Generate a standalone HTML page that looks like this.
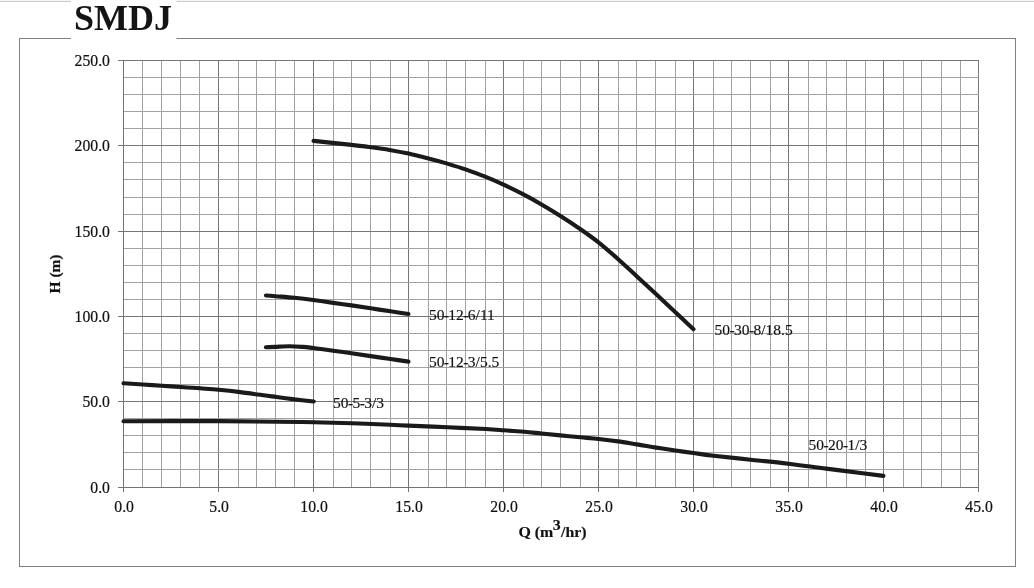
<!DOCTYPE html>
<html lang="en">
<head>
<meta charset="utf-8">
<title>SMDJ</title>
<style>
html,body{margin:0;padding:0;background:#fff;}
body{width:1034px;height:588px;overflow:hidden;position:relative;font-family:"Liberation Serif",serif;}
svg{position:absolute;left:0;top:0;display:block;}
text{font-family:"Liberation Serif",serif;fill:#111;}
.t{font-size:15.7px;stroke:#111;stroke-width:0.2px;}
.d{font-size:15.5px;stroke:#111;stroke-width:0.15px;}
.b{font-size:15.9px;font-weight:bold;stroke:#111;stroke-width:0.2px;}
.title{font-size:36px;font-weight:bold;fill:#141414;}
</style>
</head>
<body>
<svg width="1034" height="588" viewBox="0 0 1034 588">
<rect x="0" y="0" width="1034" height="588" fill="#fff"/>

<rect x="0" y="0" width="1034" height="1" fill="#f6f6f6"/><rect x="0" y="1" width="1034" height="1" fill="#cacaca"/>
<rect x="19.5" y="38.5" width="996" height="528" fill="none" stroke="#808080" stroke-width="1" shape-rendering="crispEdges"/>
<rect x="71" y="0" width="105.5" height="41" fill="#fff"/>
<text class="title" x="73.9" y="30.4">SMDJ</text>
<g stroke-width="1" shape-rendering="crispEdges"><line x1="142.5" y1="60.5" x2="142.5" y2="487.5" stroke="#a2a2a2"/>
<line x1="161.5" y1="60.5" x2="161.5" y2="487.5" stroke="#a2a2a2"/>
<line x1="180.5" y1="60.5" x2="180.5" y2="487.5" stroke="#a2a2a2"/>
<line x1="199.5" y1="60.5" x2="199.5" y2="487.5" stroke="#a2a2a2"/>
<line x1="218.5" y1="60.5" x2="218.5" y2="487.5" stroke="#767676"/>
<line x1="238.5" y1="60.5" x2="238.5" y2="487.5" stroke="#a2a2a2"/>
<line x1="256.5" y1="60.5" x2="256.5" y2="487.5" stroke="#a2a2a2"/>
<line x1="275.5" y1="60.5" x2="275.5" y2="487.5" stroke="#a2a2a2"/>
<line x1="294.5" y1="60.5" x2="294.5" y2="487.5" stroke="#a2a2a2"/>
<line x1="313.5" y1="60.5" x2="313.5" y2="487.5" stroke="#767676"/>
<line x1="333.5" y1="60.5" x2="333.5" y2="487.5" stroke="#a2a2a2"/>
<line x1="351.5" y1="60.5" x2="351.5" y2="487.5" stroke="#a2a2a2"/>
<line x1="370.5" y1="60.5" x2="370.5" y2="487.5" stroke="#a2a2a2"/>
<line x1="390.5" y1="60.5" x2="390.5" y2="487.5" stroke="#a2a2a2"/>
<line x1="408.5" y1="60.5" x2="408.5" y2="487.5" stroke="#767676"/>
<line x1="428.5" y1="60.5" x2="428.5" y2="487.5" stroke="#a2a2a2"/>
<line x1="446.5" y1="60.5" x2="446.5" y2="487.5" stroke="#a2a2a2"/>
<line x1="465.5" y1="60.5" x2="465.5" y2="487.5" stroke="#a2a2a2"/>
<line x1="485.5" y1="60.5" x2="485.5" y2="487.5" stroke="#a2a2a2"/>
<line x1="503.5" y1="60.5" x2="503.5" y2="487.5" stroke="#767676"/>
<line x1="523.5" y1="60.5" x2="523.5" y2="487.5" stroke="#a2a2a2"/>
<line x1="541.5" y1="60.5" x2="541.5" y2="487.5" stroke="#a2a2a2"/>
<line x1="560.5" y1="60.5" x2="560.5" y2="487.5" stroke="#a2a2a2"/>
<line x1="580.5" y1="60.5" x2="580.5" y2="487.5" stroke="#a2a2a2"/>
<line x1="598.5" y1="60.5" x2="598.5" y2="487.5" stroke="#767676"/>
<line x1="618.5" y1="60.5" x2="618.5" y2="487.5" stroke="#a2a2a2"/>
<line x1="636.5" y1="60.5" x2="636.5" y2="487.5" stroke="#a2a2a2"/>
<line x1="655.5" y1="60.5" x2="655.5" y2="487.5" stroke="#a2a2a2"/>
<line x1="675.5" y1="60.5" x2="675.5" y2="487.5" stroke="#a2a2a2"/>
<line x1="693.5" y1="60.5" x2="693.5" y2="487.5" stroke="#767676"/>
<line x1="713.5" y1="60.5" x2="713.5" y2="487.5" stroke="#a2a2a2"/>
<line x1="731.5" y1="60.5" x2="731.5" y2="487.5" stroke="#a2a2a2"/>
<line x1="750.5" y1="60.5" x2="750.5" y2="487.5" stroke="#a2a2a2"/>
<line x1="770.5" y1="60.5" x2="770.5" y2="487.5" stroke="#a2a2a2"/>
<line x1="788.5" y1="60.5" x2="788.5" y2="487.5" stroke="#767676"/>
<line x1="808.5" y1="60.5" x2="808.5" y2="487.5" stroke="#a2a2a2"/>
<line x1="826.5" y1="60.5" x2="826.5" y2="487.5" stroke="#a2a2a2"/>
<line x1="846.5" y1="60.5" x2="846.5" y2="487.5" stroke="#a2a2a2"/>
<line x1="865.5" y1="60.5" x2="865.5" y2="487.5" stroke="#a2a2a2"/>
<line x1="883.5" y1="60.5" x2="883.5" y2="487.5" stroke="#767676"/>
<line x1="903.5" y1="60.5" x2="903.5" y2="487.5" stroke="#a2a2a2"/>
<line x1="921.5" y1="60.5" x2="921.5" y2="487.5" stroke="#a2a2a2"/>
<line x1="941.5" y1="60.5" x2="941.5" y2="487.5" stroke="#a2a2a2"/>
<line x1="960.5" y1="60.5" x2="960.5" y2="487.5" stroke="#a2a2a2"/>
<line x1="978.5" y1="60.5" x2="978.5" y2="487.5" stroke="#767676"/>
<line x1="123.5" y1="469.5" x2="978.5" y2="469.5" stroke="#a2a2a2"/>
<line x1="123.5" y1="452.5" x2="978.5" y2="452.5" stroke="#a2a2a2"/>
<line x1="123.5" y1="435.5" x2="978.5" y2="435.5" stroke="#a2a2a2"/>
<line x1="123.5" y1="418.5" x2="978.5" y2="418.5" stroke="#a2a2a2"/>
<line x1="123.5" y1="401.5" x2="978.5" y2="401.5" stroke="#767676"/>
<line x1="123.5" y1="384.5" x2="978.5" y2="384.5" stroke="#a2a2a2"/>
<line x1="123.5" y1="367.5" x2="978.5" y2="367.5" stroke="#a2a2a2"/>
<line x1="123.5" y1="350.5" x2="978.5" y2="350.5" stroke="#a2a2a2"/>
<line x1="123.5" y1="333.5" x2="978.5" y2="333.5" stroke="#a2a2a2"/>
<line x1="123.5" y1="316.5" x2="978.5" y2="316.5" stroke="#767676"/>
<line x1="123.5" y1="299.5" x2="978.5" y2="299.5" stroke="#a2a2a2"/>
<line x1="123.5" y1="282.5" x2="978.5" y2="282.5" stroke="#a2a2a2"/>
<line x1="123.5" y1="265.5" x2="978.5" y2="265.5" stroke="#a2a2a2"/>
<line x1="123.5" y1="248.5" x2="978.5" y2="248.5" stroke="#a2a2a2"/>
<line x1="123.5" y1="231.5" x2="978.5" y2="231.5" stroke="#767676"/>
<line x1="123.5" y1="214.5" x2="978.5" y2="214.5" stroke="#a2a2a2"/>
<line x1="123.5" y1="197.5" x2="978.5" y2="197.5" stroke="#a2a2a2"/>
<line x1="123.5" y1="179.5" x2="978.5" y2="179.5" stroke="#a2a2a2"/>
<line x1="123.5" y1="162.5" x2="978.5" y2="162.5" stroke="#a2a2a2"/>
<line x1="123.5" y1="145.5" x2="978.5" y2="145.5" stroke="#767676"/>
<line x1="123.5" y1="128.5" x2="978.5" y2="128.5" stroke="#a2a2a2"/>
<line x1="123.5" y1="111.5" x2="978.5" y2="111.5" stroke="#a2a2a2"/>
<line x1="123.5" y1="94.5" x2="978.5" y2="94.5" stroke="#a2a2a2"/>
<line x1="123.5" y1="77.5" x2="978.5" y2="77.5" stroke="#a2a2a2"/>
<line x1="123.5" y1="60.5" x2="978.5" y2="60.5" stroke="#767676"/></g>
<g stroke="#747474" stroke-width="1" shape-rendering="crispEdges"><line x1="123.5" y1="60.5" x2="123.5" y2="492.0"/>
<line x1="117.5" y1="487.5" x2="978.5" y2="487.5"/>
<line x1="218.5" y1="487.5" x2="218.5" y2="492.0"/>
<line x1="313.5" y1="487.5" x2="313.5" y2="492.0"/>
<line x1="408.5" y1="487.5" x2="408.5" y2="492.0"/>
<line x1="503.5" y1="487.5" x2="503.5" y2="492.0"/>
<line x1="598.5" y1="487.5" x2="598.5" y2="492.0"/>
<line x1="693.5" y1="487.5" x2="693.5" y2="492.0"/>
<line x1="788.5" y1="487.5" x2="788.5" y2="492.0"/>
<line x1="883.5" y1="487.5" x2="883.5" y2="492.0"/>
<line x1="978.5" y1="487.5" x2="978.5" y2="492.0"/>
<line x1="117.5" y1="401.5" x2="123.5" y2="401.5"/>
<line x1="117.5" y1="316.5" x2="123.5" y2="316.5"/>
<line x1="117.5" y1="231.5" x2="123.5" y2="231.5"/>
<line x1="117.5" y1="145.5" x2="123.5" y2="145.5"/>
<line x1="117.5" y1="60.5" x2="123.5" y2="60.5"/></g>
<text class="t" x="124.1" y="512.2" text-anchor="middle">0.0</text>
<text class="t" x="219.1" y="512.2" text-anchor="middle">5.0</text>
<text class="t" x="314.1" y="512.2" text-anchor="middle">10.0</text>
<text class="t" x="409.1" y="512.2" text-anchor="middle">15.0</text>
<text class="t" x="504.1" y="512.2" text-anchor="middle">20.0</text>
<text class="t" x="599.1" y="512.2" text-anchor="middle">25.0</text>
<text class="t" x="694.1" y="512.2" text-anchor="middle">30.0</text>
<text class="t" x="789.1" y="512.2" text-anchor="middle">35.0</text>
<text class="t" x="884.1" y="512.2" text-anchor="middle">40.0</text>
<text class="t" x="979.1" y="512.2" text-anchor="middle">45.0</text>
<text class="t" x="109.9" y="492.5" text-anchor="end">0.0</text>
<text class="t" x="109.9" y="407.4" text-anchor="end">50.0</text>
<text class="t" x="109.9" y="322.4" text-anchor="end">100.0</text>
<text class="t" x="109.9" y="237.4" text-anchor="end">150.0</text>
<text class="t" x="109.9" y="151.4" text-anchor="end">200.0</text>
<text class="t" x="109.9" y="66.4" text-anchor="end">250.0</text>
<text class="b" style="font-size:15.4px" transform="translate(60.4,274) rotate(-90)" text-anchor="middle">H (m)</text>
<text class="b" transform="translate(518.4,536.5) scale(1,0.9)">Q (m<tspan dy="-6.8" dx="-0.6">3</tspan><tspan dy="6.8" dx="0.4">/hr)</tspan></text>
<g fill="none" stroke="#1a1a1a" stroke-width="4.1" stroke-linecap="round" stroke-linejoin="round">
<path d="M313.5,140.9 C316.7,141.2 326.2,142.2 332.5,142.9 C338.8,143.6 345.2,144.2 351.5,144.9 C357.8,145.6 364.2,146.4 370.5,147.2 C376.8,148.0 383.2,148.8 389.5,149.9 C395.8,151.0 402.2,152.2 408.5,153.6 C414.8,155.0 421.2,156.6 427.5,158.2 C433.8,159.8 440.2,161.5 446.5,163.4 C452.8,165.3 459.2,167.2 465.5,169.4 C471.8,171.6 478.2,173.9 484.5,176.4 C490.8,178.9 497.0,181.6 503.5,184.6 C510.0,187.6 517.1,191.1 523.4,194.4 C529.7,197.7 535.3,200.8 541.5,204.4 C547.7,208.0 554.0,211.8 560.5,215.9 C567.0,220.0 574.2,224.8 580.5,229.2 C586.8,233.6 592.2,237.3 598.5,242.3 C604.8,247.3 611.9,253.6 618.2,259.2 C624.5,264.8 630.1,270.1 636.4,275.9 C642.6,281.7 649.2,287.8 655.7,293.8 C662.2,299.9 669.1,306.3 675.4,312.2 C681.7,318.1 690.5,326.4 693.5,329.2"/>
<path d="M265.9,295.5 C267.5,295.6 270.6,295.8 275.4,296.2 C280.1,296.6 288.1,297.2 294.4,297.8 C300.7,298.4 306.7,299.1 313.2,300.0 C319.7,300.9 326.8,302.0 333.2,302.9 C339.6,303.8 345.2,304.5 351.5,305.4 C357.8,306.3 364.2,307.3 370.7,308.3 C377.2,309.3 384.3,310.4 390.6,311.3 C396.9,312.2 405.5,313.6 408.5,314.0"/>
<path d="M265.9,347.2 C267.5,347.1 271.5,347.1 275.4,346.9 C279.3,346.7 284.7,346.2 289.3,346.2 C293.9,346.2 298.9,346.6 302.9,346.9 C306.9,347.2 308.1,347.4 313.2,348.0 C318.2,348.6 326.8,349.8 333.2,350.7 C339.6,351.6 345.2,352.4 351.5,353.3 C357.8,354.2 364.2,355.2 370.7,356.1 C377.2,357.1 384.3,358.1 390.6,359.0 C396.9,359.9 405.5,361.2 408.5,361.6"/>
<path d="M123.5,383.2 C126.7,383.4 136.3,384.1 142.7,384.5 C149.1,384.9 155.4,385.3 161.8,385.7 C168.2,386.1 174.6,386.6 181.0,387.0 C187.4,387.4 193.8,387.8 200.1,388.3 C206.4,388.8 212.2,389.2 218.6,389.8 C225.0,390.4 231.9,391.1 238.4,391.9 C244.9,392.7 251.2,393.6 257.6,394.5 C264.0,395.4 270.5,396.2 276.7,397.0 C282.9,397.8 288.6,398.6 294.8,399.4 C301.0,400.1 310.6,401.1 313.7,401.5"/>
<path d="M123.5,421.3 C139.3,421.3 193.1,421.0 218.6,421.1 C244.1,421.2 260.8,421.5 276.7,421.7 C292.6,421.9 301.4,422.0 313.9,422.3 C326.4,422.6 339.2,422.9 351.9,423.3 C364.6,423.7 380.8,424.4 390.2,424.8 C399.6,425.2 398.7,425.2 408.3,425.6 C417.9,426.0 434.8,426.7 447.7,427.3 C460.6,427.9 476.6,428.5 486.0,429.0 C495.4,429.5 497.6,429.8 504.0,430.3 C510.4,430.8 518.1,431.3 524.3,431.8 C530.5,432.3 535.3,432.9 541.3,433.5 C547.3,434.1 553.8,434.8 560.4,435.4 C567.0,436.0 574.2,436.7 580.6,437.3 C587.0,437.9 592.5,438.3 598.7,439.0 C604.9,439.7 611.5,440.5 617.9,441.4 C624.3,442.3 630.6,443.4 637.0,444.4 C643.4,445.4 649.8,446.6 656.2,447.6 C662.6,448.6 669.1,449.6 675.3,450.5 C681.5,451.4 687.0,452.1 693.4,453.0 C699.8,453.9 704.0,454.6 713.5,455.7 C723.0,456.8 738.1,458.4 750.6,459.7 C763.1,461.0 775.7,462.2 788.3,463.7 C800.9,465.2 813.5,467.0 826.2,468.6 C838.9,470.2 855.0,472.3 864.5,473.5 C874.0,474.7 880.2,475.5 883.4,475.9"/>
</g>
<text class="d" x="428.9" y="319.6" dx="0 0 -0.6 -0.6 0 -0.6 -0.6 0 0 0">50-12-6/11</text>
<text class="d" x="428.9" y="366.8" dx="0 0 -0.6 -0.6 0 -0.6 -0.6 0 0 0 0">50-12-3/5.5</text>
<text class="d" x="714.6" y="334.7" dx="0 0 -0.6 -0.6 0 -0.6 -0.6 0 0 0 0 0">50-30-8/18.5</text>
<text class="d" x="333.1" y="407.6" dx="0 0 -0.6 -0.6 -0.6 -0.6 0 0">50-5-3/3</text>
<text class="d" x="808.6" y="450.2" dx="0 0 -0.6 -0.6 0 -0.6 -0.6 0 0">50-20-1/3</text>
</svg>
</body>
</html>
